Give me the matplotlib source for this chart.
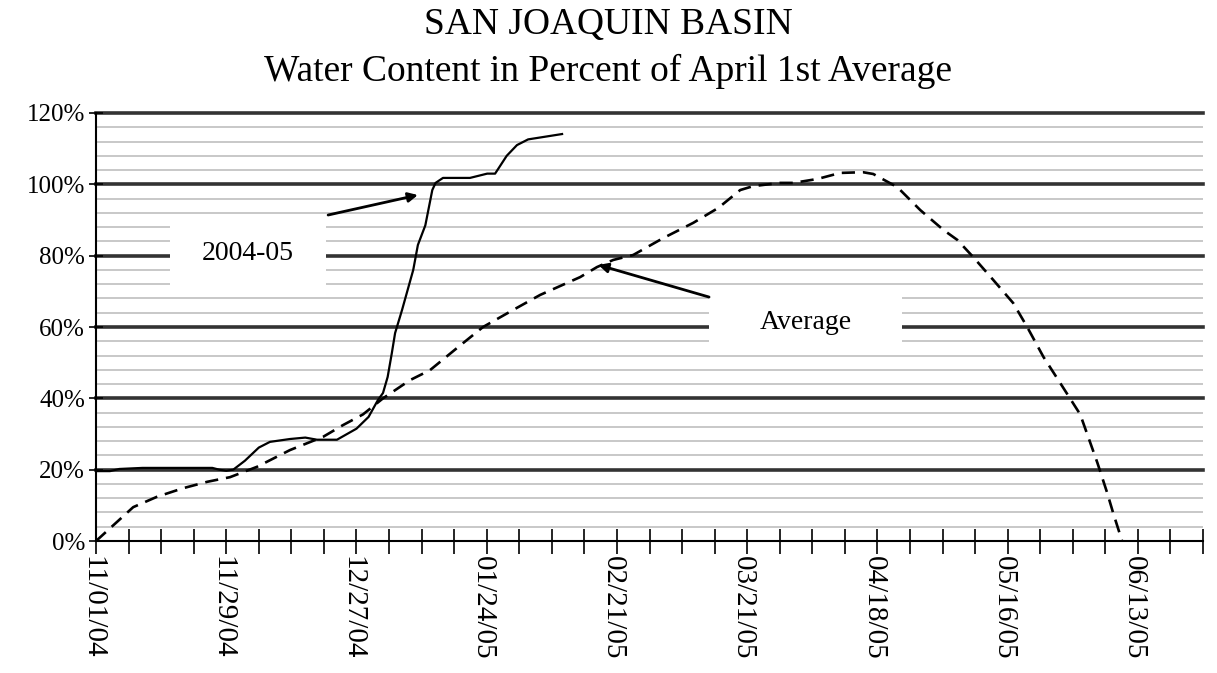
import numpy as np
import matplotlib
matplotlib.use("Agg")
import matplotlib.pyplot as plt
import matplotlib.transforms as mtransforms
from matplotlib.ticker import MultipleLocator, FixedLocator, FuncFormatter

plt.rcParams['font.family'] = ['Liberation Serif', 'DejaVu Serif']

# --- data (days since 11/01/04, percent of April 1st average) ---
wy_day = [0, 3, 5, 10, 25, 26.5, 28, 29.5, 32, 35, 37.4, 41.7, 45, 47.5, 51.8,
          56, 58.6, 60.6, 61.7, 62.7, 63.6, 64.3, 65.8, 68.2, 69.2, 70.8, 72.3,
          73, 74.6, 80.4, 84.1, 85.8, 88.3, 90.5, 92.9, 100.2]
wy_pct = [19.6, 19.6, 20.2, 20.5, 20.5, 20.0, 19.7, 20.0, 22.5, 26.2, 27.8, 28.6,
          29.0, 28.4, 28.4, 31.5, 34.8, 39.5, 41.5, 46.0, 52.7, 58.3, 64.8, 76.0,
          83.0, 88.5, 98.4, 100.4, 101.8, 101.8, 103.0, 103.0, 108.0, 111.0,
          112.6, 114.1]

avg_day = [0, 8.0, 13.1, 18.7, 23.9, 28.8, 34.6, 41.7, 48.8, 53.1, 57.4, 61.7,
           67.5, 71.8, 77.6, 83.2, 89.7, 95.5, 104.1, 107.7, 111.2, 115.5, 121.9,
           128.4, 133.8, 138.5, 141.3, 147.1, 149.9, 155.1, 160, 164.9, 167.1,
           172.3, 177.2, 182.2, 185.2, 188.6, 192.9, 197.2, 200.2, 203.7, 207.3,
           211.6, 215.3, 217.4, 218.7, 220.6]
avg_pct = [0, 9.5, 12.4, 14.8, 16.6, 17.9, 20.8, 25.5, 29.2, 32.5, 35.5, 40.0,
           45.1, 47.9, 54.1, 60.0, 64.8, 69.0, 74.0, 76.8, 78.8, 80.2, 84.9,
           89.2, 93.4, 98.4, 99.5, 100.4, 100.4, 101.5, 103.2, 103.4, 102.9,
           99.2, 92.8, 87.2, 84.4, 79.6, 73.2, 66.7, 60.0, 51.6, 44.3, 35.5,
           21.9, 13.5, 7.8, 0]

date_labels = ['11/01/04', '11/29/04', '12/27/04', '01/24/05', '02/21/05',
               '03/21/05', '04/18/05', '05/16/05', '06/13/05']
x_end = 238

fig = plt.figure(figsize=(12.17, 6.73), dpi=100)
ax = fig.add_axes([0.0789, 0.1961, 0.9096, 0.6360])

# gridlines
for y in np.arange(4, 120, 4):
    if y % 20:
        ax.axhline(y, color='#c8c8c8', lw=1.4, zorder=0)
for y in range(20, 121, 20):
    ax.axhline(y, color='#333333', lw=2.6, zorder=1, clip_on=False)

ax.plot(avg_day, avg_pct, color='black', lw=1.9, dashes=(5, 3), zorder=3)
ax.plot(wy_day, wy_pct, color='black', lw=1.6, zorder=3)

ax.set_xlim(0, x_end)
ax.set_ylim(0, 120)

ax.xaxis.set_major_locator(FixedLocator(np.arange(0, 28 * len(date_labels), 28)))
ax.xaxis.set_minor_locator(MultipleLocator(7))
ax.set_xticklabels(date_labels, rotation=270)
ax.yaxis.set_major_locator(MultipleLocator(20))
ax.yaxis.set_major_formatter(FuncFormatter(lambda v, p: f"{v:.0f}%"))
ax.tick_params(axis='x', which='both', direction='inout', length=18, width=1.2,
               labelsize=21, pad=2)
ax.tick_params(axis='y', which='major', direction='inout', length=10, width=1.2,
               labelsize=18, pad=3)

# nudge date labels a little to the left, like the original
shift = mtransforms.ScaledTranslation(-4 / 100, 0, fig.dpi_scale_trans)
for lab in ax.get_xticklabels():
    lab.set_transform(lab.get_transform() + shift)

for s in ['top', 'right']:
    ax.spines[s].set_visible(False)
ax.spines['left'].set_linewidth(1.5)
ax.spines['bottom'].set_linewidth(1.5)
ax.spines['bottom'].set_zorder(4)

# labels with arrows
ax.add_patch(plt.Rectangle((15.9, 71.2), 33.6, 18.2, facecolor='white',
                           edgecolor='none', zorder=2))
ax.text(32.7, 80.5, '2004-05', ha='center', va='center', fontsize=20, zorder=4)
ax.annotate('', xy=(69.2, 97.0), xytext=(49.9, 91.4),
            arrowprops=dict(arrowstyle='-|>', color='black', lw=2,
                            mutation_scale=14, shrinkA=0, shrinkB=0), zorder=4)

ax.add_patch(plt.Rectangle((131.8, 53.5), 41.5, 16.0, facecolor='white',
                           edgecolor='none', zorder=2))
ax.text(152.5, 61.3, 'Average', ha='center', va='center', fontsize=20, zorder=4)
ax.annotate('', xy=(108.0, 77.4), xytext=(131.8, 68.4),
            arrowprops=dict(arrowstyle='-|>', color='black', lw=2,
                            mutation_scale=14, shrinkA=0, shrinkB=0), zorder=4)

fig.text(0.5, 1 - 25 / 673, 'SAN JOAQUIN BASIN', ha='center', va='center',
         fontsize=27)
fig.text(0.5, 1 - 71 / 673, 'Water Content in Percent of April 1st Average',
         ha='center', va='center', fontsize=27)

fig.savefig('out.png', dpi=100)
